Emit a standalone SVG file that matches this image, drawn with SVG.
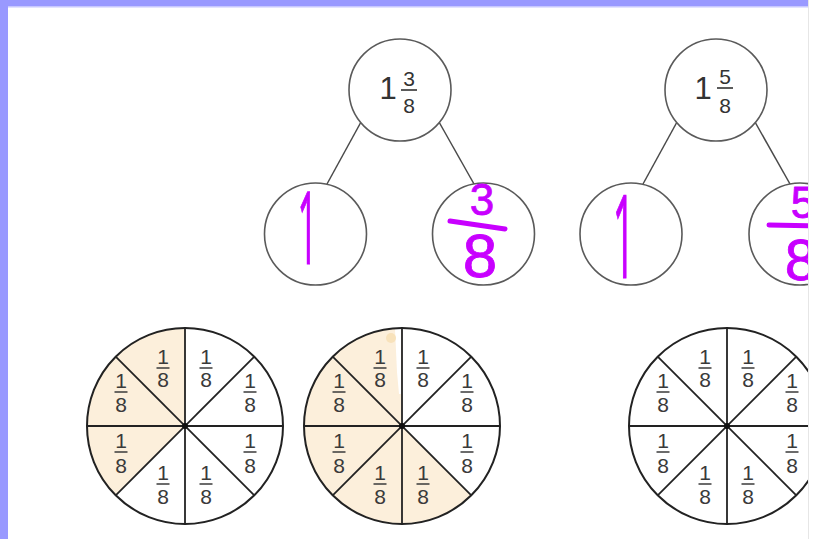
<svg xmlns="http://www.w3.org/2000/svg" width="818" height="539" viewBox="0 0 818 539">
<defs>
<style>
.node{fill:#fff;stroke:#5a5a5a;stroke-width:1.6}
.conn{stroke:#4a4a4a;stroke-width:1.5;fill:none}
.big{font-family:"Liberation Sans",Arial,sans-serif;font-size:31px;fill:#333;text-anchor:middle}
.frac{font-family:"Liberation Sans",Arial,sans-serif;font-size:21px;fill:#333;text-anchor:middle}
.fb{stroke:#333;stroke-width:1.6}
.pie{fill:none;stroke:#222;stroke-width:2}
.div{stroke:#222;stroke-width:1.8}
.shade{fill:#fcefdb}
.lab{font-family:"Liberation Sans",Arial,sans-serif;font-size:21px;fill:#3a3a3a;text-anchor:middle}
.lb{stroke:#3a3a3a;stroke-width:1.5}
.ink{font-family:"Liberation Sans",Arial,sans-serif;fill:#c800ff;stroke:#c800ff;stroke-width:0.8;stroke-linejoin:round}
.ink1{font-family:"Open Sans","Noto Sans",sans-serif;fill:#c800ff;stroke:#c800ff;stroke-width:1.2}
.inkl{stroke:#c800ff;stroke-width:5;stroke-linecap:round}
</style>
<clipPath id="clip"><rect x="0" y="0" width="808" height="539"/></clipPath>
</defs>
<rect width="818" height="539" fill="#fff"/>
<g clip-path="url(#clip)">
<g id="connectors">
<line class="conn" x1="361" y1="122" x2="327" y2="184"/>
<line class="conn" x1="439" y1="122" x2="474" y2="184"/>
<line class="conn" x1="677" y1="122" x2="643" y2="184"/>
<line class="conn" x1="755" y1="122" x2="790" y2="184"/>
</g>
<g id="top1">
<circle class="node" cx="400" cy="90" r="51"/>
<text class="big" x="388" y="99">1</text>
<text class="frac" x="409" y="86">3</text>
<line class="fb" x1="401" y1="90" x2="417" y2="90"/>
<text class="frac" x="409" y="113">8</text>
</g>
<g id="left1">
<circle class="node" cx="315.5" cy="234" r="51"/>
<text class="ink1" font-size="100" text-anchor="middle" transform="translate(309,264) scale(0.35,1)" x="-4" y="0">1</text>
</g>
<g id="right1">
<circle class="node" cx="483.5" cy="234" r="51"/>
<text class="ink" font-size="44" text-anchor="middle" x="482" y="215">3</text>
<line class="inkl" x1="450" y1="221" x2="505" y2="229"/>
<text class="ink" font-size="62" text-anchor="middle" x="480" y="277">8</text>
</g>
<g id="top2">
<circle class="node" cx="716" cy="90" r="51"/>
<text class="big" x="703" y="99">1</text>
<text class="frac" x="725" y="84">5</text>
<line class="fb" x1="717" y1="88" x2="733" y2="88"/>
<text class="frac" x="725" y="113">8</text>
</g>
<g id="left2">
<circle class="node" cx="631" cy="234" r="51"/>
<text class="ink1" font-size="116" text-anchor="middle" transform="translate(625,278) scale(0.33,1)" x="-4" y="0">1</text>
</g>
<g id="right2">
<circle class="node" cx="800" cy="234" r="51"/>
<text class="ink" font-size="44" text-anchor="middle" x="803" y="218">5</text>
<line class="inkl" x1="769" y1="225" x2="830" y2="226"/>
<text class="ink" font-size="58" text-anchor="middle" x="801" y="280">8</text>
</g>

<g id="pie1">
<path class="shade" d="M185,426 L185,328 A98,98 0 0,0 115.7,495.3 Z"/>
<line class="div" x1="185" y1="328" x2="185" y2="524"/>
<line class="div" x1="87" y1="426" x2="283" y2="426"/>
<line class="div" x1="115.7" y1="356.7" x2="254.3" y2="495.3"/>
<line class="div" x1="115.7" y1="495.3" x2="254.3" y2="356.7"/>
<circle class="pie" cx="185" cy="426" r="98"/>
<circle cx="185" cy="426" r="3" fill="#111"/>
<text class="lab" x="163" y="364">1</text><line class="lb" x1="156.5" y1="368" x2="169.5" y2="368"/><text class="lab" x="163" y="387">8</text>
<text class="lab" x="206" y="364">1</text><line class="lb" x1="199.5" y1="368" x2="212.5" y2="368"/><text class="lab" x="206" y="387">8</text>
<text class="lab" x="121" y="388">1</text><line class="lb" x1="114.5" y1="392" x2="127.5" y2="392"/><text class="lab" x="121" y="412">8</text>
<text class="lab" x="250" y="388">1</text><line class="lb" x1="243.5" y1="392" x2="256.5" y2="392"/><text class="lab" x="250" y="412">8</text>
<text class="lab" x="121" y="448">1</text><line class="lb" x1="114.5" y1="452" x2="127.5" y2="452"/><text class="lab" x="121" y="473">8</text>
<text class="lab" x="250" y="448">1</text><line class="lb" x1="243.5" y1="452" x2="256.5" y2="452"/><text class="lab" x="250" y="473">8</text>
<text class="lab" x="163" y="480">1</text><line class="lb" x1="156.5" y1="484" x2="169.5" y2="484"/><text class="lab" x="163" y="504">8</text>
<text class="lab" x="206" y="480">1</text><line class="lb" x1="199.5" y1="484" x2="212.5" y2="484"/><text class="lab" x="206" y="504">8</text>
</g>

<g id="pie2">
<path class="shade" d="M402,426 L402,328 A98,98 0 1,0 471.3,495.3 Z"/>
<polygon points="395,329 401,329 401,394 399,394 397,372" fill="#fff"/>
<circle cx="391" cy="338" r="5" fill="#f8e2bb"/>
<line class="div" x1="402" y1="328" x2="402" y2="524"/>
<line class="div" x1="304" y1="426" x2="500" y2="426"/>
<line class="div" x1="332.7" y1="356.7" x2="471.3" y2="495.3"/>
<line class="div" x1="332.7" y1="495.3" x2="471.3" y2="356.7"/>
<circle class="pie" cx="402" cy="426" r="98"/>
<circle cx="402" cy="426" r="3" fill="#111"/>
<text class="lab" x="380" y="364">1</text><line class="lb" x1="373.5" y1="368" x2="386.5" y2="368"/><text class="lab" x="380" y="387">8</text>
<text class="lab" x="423" y="364">1</text><line class="lb" x1="416.5" y1="368" x2="429.5" y2="368"/><text class="lab" x="423" y="387">8</text>
<text class="lab" x="339" y="388">1</text><line class="lb" x1="332.5" y1="392" x2="345.5" y2="392"/><text class="lab" x="339" y="412">8</text>
<text class="lab" x="467" y="388">1</text><line class="lb" x1="460.5" y1="392" x2="473.5" y2="392"/><text class="lab" x="467" y="412">8</text>
<text class="lab" x="339" y="448">1</text><line class="lb" x1="332.5" y1="452" x2="345.5" y2="452"/><text class="lab" x="339" y="473">8</text>
<text class="lab" x="467" y="448">1</text><line class="lb" x1="460.5" y1="452" x2="473.5" y2="452"/><text class="lab" x="467" y="473">8</text>
<text class="lab" x="380" y="480">1</text><line class="lb" x1="373.5" y1="484" x2="386.5" y2="484"/><text class="lab" x="380" y="504">8</text>
<text class="lab" x="423" y="480">1</text><line class="lb" x1="416.5" y1="484" x2="429.5" y2="484"/><text class="lab" x="423" y="504">8</text>
</g>

<g id="pie3">
<line class="div" x1="727" y1="328" x2="727" y2="524"/>
<line class="div" x1="629" y1="426" x2="825" y2="426"/>
<line class="div" x1="657.7" y1="356.7" x2="796.3" y2="495.3"/>
<line class="div" x1="657.7" y1="495.3" x2="796.3" y2="356.7"/>
<circle class="pie" cx="727" cy="426" r="98"/>
<circle cx="727" cy="426" r="3" fill="#111"/>
<text class="lab" x="705" y="364">1</text><line class="lb" x1="698.5" y1="368" x2="711.5" y2="368"/><text class="lab" x="705" y="387">8</text>
<text class="lab" x="748" y="364">1</text><line class="lb" x1="741.5" y1="368" x2="754.5" y2="368"/><text class="lab" x="748" y="387">8</text>
<text class="lab" x="663" y="388">1</text><line class="lb" x1="656.5" y1="392" x2="669.5" y2="392"/><text class="lab" x="663" y="412">8</text>
<text class="lab" x="792" y="388">1</text><line class="lb" x1="785.5" y1="392" x2="798.5" y2="392"/><text class="lab" x="792" y="412">8</text>
<text class="lab" x="663" y="448">1</text><line class="lb" x1="656.5" y1="452" x2="669.5" y2="452"/><text class="lab" x="663" y="473">8</text>
<text class="lab" x="792" y="448">1</text><line class="lb" x1="785.5" y1="452" x2="798.5" y2="452"/><text class="lab" x="792" y="473">8</text>
<text class="lab" x="705" y="480">1</text><line class="lb" x1="698.5" y1="484" x2="711.5" y2="484"/><text class="lab" x="705" y="504">8</text>
<text class="lab" x="748" y="480">1</text><line class="lb" x1="741.5" y1="484" x2="754.5" y2="484"/><text class="lab" x="748" y="504">8</text>
</g>
</g>
<rect x="0" y="0" width="808" height="6" fill="#9999ff"/>
<rect x="0" y="6" width="808" height="1.5" fill="#c8c8ff"/>
<rect x="0" y="0" width="8" height="539" fill="#9999ff"/>
<rect x="808" y="0" width="1" height="539" fill="#e6e6e6"/>
</svg>
